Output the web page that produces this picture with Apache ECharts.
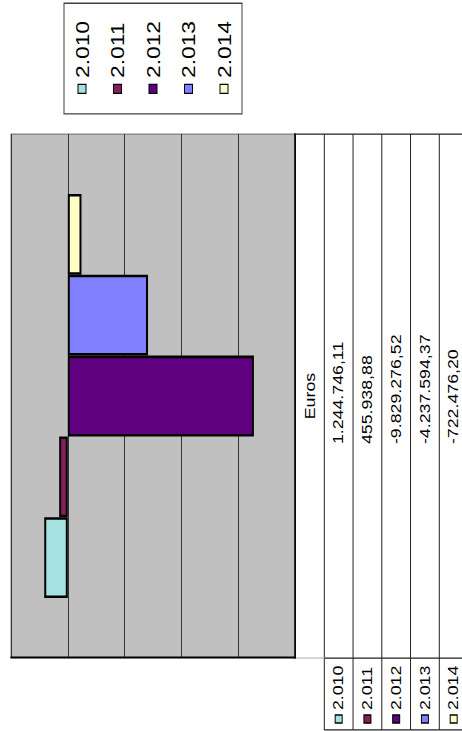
<!DOCTYPE html>
<html>
<head>
<meta charset="utf-8">
<script src="https://cdn.jsdelivr.net/npm/echarts@6/dist/echarts.min.js"></script>
<style>
html,body{margin:0;padding:0;width:462px;height:731px;overflow:hidden;background:#fff;}
#chart{position:absolute;left:0;top:0;width:576px;height:462px;transform-origin:0 0;
transform:translate(0px,731px) rotate(-90deg) scale(1.2691,1);}
</style>
</head>
<body>
<div id="chart"></div>
<script>
// ---- data ----
const categories = ['Euros'];
const seriesNames = ['2.010', '2.011', '2.012', '2.013', '2.014'];
const seriesValues = [1244746.11, 455938.88, -9829276.52, -4237594.37, -722476.20];
const seriesColors = ['#A6E1E1', '#861E5E', '#5E0080', '#8080FF', '#FFFFC4'];
const valueMin = -12000000, valueMax = 3000000, valueStep = 3000000;

// ---- layout (unscaled frame 576 x 462) ----
const W0 = 576;
const FONT = "'Liberation Sans', Arial, sans-serif";
const G = {left: 57.5, right: W0 - 470.4, top: 11, bottom: 462 - 295};
const plotL = G.left, plotR = W0 - G.right, plotB = 462 - G.bottom;
const tableL = 0.8;
const headerTop = plotB + 1, headerBot = 324.3, rowH = 28.75;

function fmtEs(v) {
  const neg = v < 0;
  let [i, d] = Math.abs(v).toFixed(2).split('.');
  i = i.replace(/\B(?=(\d{3})+(?!\d))/g, '.');
  return (neg ? '-' : '') + i + ',' + d;
}

const chart = echarts.init(document.getElementById('chart'), null, {renderer: 'svg'});

const graphics = [];
const lineStyle = {stroke: '#222', lineWidth: 1};
for (let r = 0; r <= seriesNames.length; r++) {
  const y = headerBot + r * rowH;
  graphics.push({type: 'line', shape: {x1: tableL, y1: y, x2: plotR, y2: y}, style: lineStyle, z: 10});
}
graphics.push({type: 'line', shape: {x1: plotR, y1: headerTop - 1, x2: plotR, y2: 470}, style: lineStyle, z: 10});
graphics.push({type: 'line', shape: {x1: plotL, y1: headerBot, x2: plotL, y2: 470}, style: lineStyle, z: 10});
graphics.push({type: 'line', shape: {x1: plotL, y1: headerTop, x2: plotL, y2: headerBot}, style: {stroke: '#bbb', lineWidth: 1}, z: 10});
graphics.push({type: 'line', shape: {x1: tableL, y1: headerBot, x2: tableL, y2: 470}, style: lineStyle, z: 10});
graphics.push({type: 'text', z: 11, style: {text: categories[0], x: (plotL + plotR) / 2, y: (headerTop + headerBot) / 2,
  font: '14px ' + FONT, fill: '#000', textAlign: 'center', align: 'center', textVerticalAlign: 'middle', verticalAlign: 'middle'}});
seriesNames.forEach((name, i) => {
  const cy = headerBot + (i + 0.5) * rowH;
  graphics.push({type: 'rect', z: 11, shape: {x: 6.3, y: cy - 3.5, width: 6.3, height: 7},
    style: {fill: seriesColors[i], stroke: '#000', lineWidth: 1}});
  graphics.push({type: 'text', z: 11, style: {text: name, x: 16.5, y: cy, font: '14px ' + FONT, fill: '#000',
    textAlign: 'left', align: 'left', textVerticalAlign: 'middle', verticalAlign: 'middle'}});
  graphics.push({type: 'text', z: 11, style: {text: fmtEs(seriesValues[i]), x: 226.1, y: cy, font: '14px ' + FONT, fill: '#000',
    textAlign: 'left', align: 'left', textVerticalAlign: 'middle', verticalAlign: 'middle'}});
});

chart.setOption({
  animation: false,
  backgroundColor: '#fff',
  legend: {
    orient: 'vertical', left: 486.2, top: 64,
    padding: [9, 13.9, 9, 15.7],
    itemWidth: 7.1, itemHeight: 8, itemGap: 17.5,
    icon: 'rect', selectedMode: false,
    borderColor: '#404040', borderWidth: 1,
    itemStyle: {borderColor: '#000', borderWidth: 1},
    textStyle: {fontSize: 18, lineHeight: 18, fontFamily: FONT, color: '#000'},
    data: seriesNames
  },
  grid: {left: G.left, right: G.right, top: G.top, bottom: G.bottom, show: true,
    backgroundColor: '#C0C0C0', borderColor: '#808080', borderWidth: 1},
  xAxis: {type: 'category', data: categories, position: 'bottom',
    axisLine: {show: true, onZero: false, lineStyle: {color: '#000', width: 1.5}},
    axisTick: {show: false}, axisLabel: {show: false}, splitLine: {show: false}},
  yAxis: {type: 'value', min: valueMin, max: valueMax, interval: valueStep,
    axisLine: {show: true, lineStyle: {color: '#000', width: 1.5}},
    axisTick: {show: false}, axisLabel: {show: false},
    splitLine: {show: true, lineStyle: {color: '#333', width: 1}}},
  series: seriesNames.map((name, i) => ({
    name: name, type: 'bar', data: [seriesValues[i]],
    barGap: '0%', barCategoryGap: '22.9%',
    itemStyle: {color: seriesColors[i], borderColor: '#000', borderWidth: 2}
  })),
  graphic: graphics
});
</script>
</body>
</html>
